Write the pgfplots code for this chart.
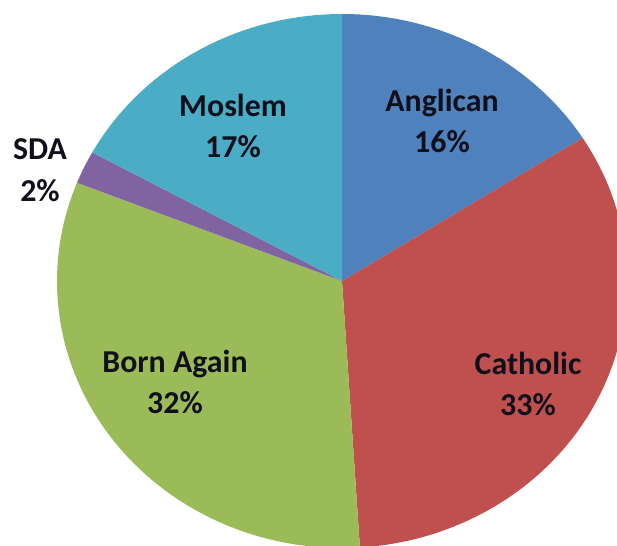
\documentclass[border=0pt]{standalone}
\usepackage{pgfplots}
\usepackage{pgfplotstable}
\pgfplotsset{compat=1.18}
\usepackage{fontspec}
\setmainfont{Carlito}
\definecolor{anglican}{HTML}{4F81BD}
\definecolor{catholic}{HTML}{C0504D}
\definecolor{bornagain}{HTML}{9BBB59}
\definecolor{sda}{HTML}{8064A2}
\definecolor{moslem}{HTML}{4BACC6}
\definecolor{lbl}{HTML}{10101C}
\pgfplotstableread[col sep=comma]{
label,value,color,lx,ly
Anglican,16,anglican,442,121
Catholic,33,catholic,528,384
Born Again,32,bornagain,175,382
SDA,2,sda,40,170
Moslem,17,moslem,233,126
}\piedata
\def\cx{342}\def\cy{265}
\def\rx{285}\def\ry{267}
\gdef\cum{0}
\begin{document}
\begin{tikzpicture}
\begin{axis}[
  scale only axis, width=617bp, height=546bp,
  xmin=0, xmax=617, ymin=0, ymax=546,
  hide axis, clip=true,
]
\pgfplotsinvokeforeach{0,...,4}{%
  \pgfplotstablegetelem{#1}{value}\of\piedata \edef\val{\pgfplotsretval}%
  \pgfplotstablegetelem{#1}{color}\of\piedata \edef\col{\pgfplotsretval}%
  \pgfmathsetmacro\sa{90-3.6*\cum}%
  \pgfmathsetmacro\ea{90-3.6*(\cum+\val)}%
  \pgfmathsetmacro\sx{\cx+\rx*cos(\sa)}%
  \pgfmathsetmacro\sy{\cy+\ry*sin(\sa)}%
  \edef\slice{\noexpand\fill[\col] (axis cs:\cx,\cy) -- (axis cs:\sx,\sy) arc[start angle=\sa, end angle=\ea, x radius=\rx bp, y radius=\ry bp] -- cycle;}%
  \slice
  \pgfmathsetmacro\newcum{\cum+\val}%
  \xdef\cum{\newcum}%
}
\pgfplotsinvokeforeach{0,...,4}{%
  \pgfplotstablegetelem{#1}{label}\of\piedata \edef\lab{\pgfplotsretval}%
  \pgfplotstablegetelem{#1}{value}\of\piedata \edef\val{\pgfplotsretval}%
  \pgfplotstablegetelem{#1}{lx}\of\piedata \edef\lx{\pgfplotsretval}%
  \pgfplotstablegetelem{#1}{ly}\of\piedata \edef\ly{\pgfplotsretval}%
  \pgfmathsetmacro\lyy{546-\ly}%
  \edef\lbl{\noexpand\node[align=center, text=lbl, font=\noexpand\fontsize{32}{42}\noexpand\selectfont\noexpand\bfseries, inner sep=0pt] at (axis cs:\lx,\lyy) {\lab\noexpand\\\val\noexpand\%};}%
  \lbl
}
\end{axis}
\pgfresetboundingbox
\useasboundingbox (current axis.south west) rectangle (current axis.north east);
\end{tikzpicture}
\end{document}
